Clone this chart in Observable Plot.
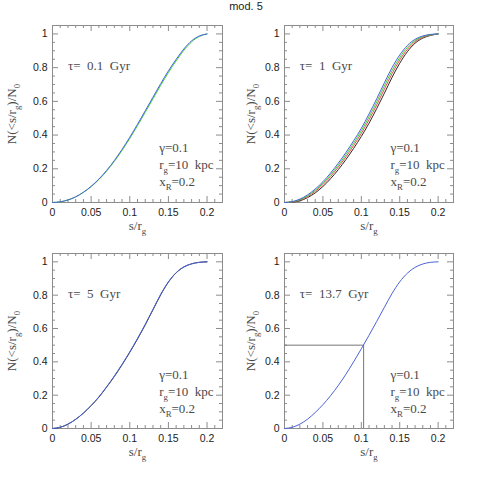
<!DOCTYPE html>
<html>
<head>
<meta charset="utf-8">
<script src="https://cdn.jsdelivr.net/npm/d3@7"></script>
<script src="https://cdn.jsdelivr.net/npm/@observablehq/plot@0.6"></script>
<style>
  html, body { margin: 0; padding: 0; background: #fff; }
  #root { position: relative; width: 479px; height: 479px; background: #fff; overflow: hidden; }
  #title { position: absolute; top: 0px; left: 196px; width: 100px; text-align: center; z-index: 5;
           font: 11px "Liberation Sans", Arial, sans-serif; color: #222; }
  .panel { position: absolute; }
</style>
</head>
<body>
<div id="root">
  <div class="panel" id="p0" style="left:0px;top:0px"></div>
  <div class="panel" id="p1" style="left:240px;top:0px"></div>
  <div class="panel" id="p2" style="left:0px;top:240px"></div>
  <div class="panel" id="p3" style="left:240px;top:240px"></div>
  <div id="title">mod. 5</div>
</div>
<script>
// ---------------- data ----------------
const sGrid = [0, 0.01, 0.02, 0.03, 0.04, 0.05, 0.06, 0.07, 0.08, 0.09, 0.10,
               0.11, 0.12, 0.13, 0.14, 0.15, 0.16, 0.17, 0.18, 0.19, 0.20];

// tau = 0.1 Gyr
const tl_blue  = [0, 0.004, 0.015, 0.034, 0.061, 0.096, 0.139, 0.190, 0.249, 0.315, 0.387,
                  0.464, 0.544, 0.625, 0.705, 0.781, 0.849, 0.911, 0.959, 0.988, 1.000];
const tl_green = [0, 0.004, 0.015, 0.033, 0.060, 0.094, 0.136, 0.186, 0.244, 0.309, 0.380,
                  0.456, 0.535, 0.615, 0.695, 0.771, 0.840, 0.903, 0.953, 0.985, 1.000];
// tau = 1 Gyr
const tr_blue  = [0, 0.005, 0.020, 0.045, 0.080, 0.123, 0.175, 0.233, 0.297, 0.366, 0.440,
                  0.525, 0.615, 0.710, 0.800, 0.875, 0.932, 0.968, 0.988, 0.997, 1.000];
const tr_green = [0, 0.004, 0.017, 0.040, 0.073, 0.114, 0.165, 0.221, 0.284, 0.352, 0.425,
                  0.508, 0.597, 0.691, 0.782, 0.860, 0.921, 0.961, 0.984, 0.995, 1.000];
const tr_red   = [0, 0.003, 0.014, 0.035, 0.066, 0.106, 0.154, 0.210, 0.271, 0.338, 0.410,
                  0.491, 0.579, 0.672, 0.764, 0.845, 0.909, 0.954, 0.980, 0.993, 1.000];
const tr_black = [0, 0.002, 0.010, 0.029, 0.057, 0.095, 0.141, 0.195, 0.255, 0.321, 0.392,
                  0.470, 0.557, 0.648, 0.742, 0.826, 0.895, 0.945, 0.975, 0.991, 1.000];
// tau = 5 Gyr
const bl_blue  = [0, 0.007, 0.026, 0.055, 0.093, 0.138, 0.190, 0.250, 0.315, 0.385, 0.460,
                  0.540, 0.625, 0.715, 0.805, 0.880, 0.935, 0.970, 0.988, 0.997, 1.000];
const bl_black = [0, 0.007, 0.026, 0.055, 0.092, 0.137, 0.188, 0.248, 0.312, 0.382, 0.457,
                  0.537, 0.622, 0.712, 0.802, 0.878, 0.934, 0.969, 0.988, 0.997, 1.000];
// tau = 13.7 Gyr
const br_blue  = [0, 0.007, 0.026, 0.056, 0.096, 0.143, 0.197, 0.258, 0.326, 0.400, 0.478,
                  0.559, 0.642, 0.727, 0.810, 0.880, 0.932, 0.967, 0.987, 0.997, 1.000];

const halfS = 0.103;   // s/r_g where N/N0 = 0.5 (tau = 13.7 Gyr)
const halfN = 0.5;

const seriesColors = { blue: "#4a63d8", green: "#3fd13f", red: "#f04a4a", black: "#2a2a2a" };
const tauLabels = ["τ=  0.1  Gyr", "τ=  1  Gyr", "τ=  5  Gyr", "τ=  13.7  Gyr"];
const paramLabels = ["γ=0.1", "r_g=10  kpc", "x_R=0.2"];
const paramY = [0.325, 0.222, 0.12];

const xMajor = [0, 0.05, 0.1, 0.15, 0.2];
const xMinor = [0.01, 0.02, 0.03, 0.04, 0.06, 0.07, 0.08, 0.09, 0.11, 0.12, 0.13, 0.14,
                0.16, 0.17, 0.18, 0.19, 0.21];
const yMajor = [0, 0.2, 0.4, 0.6, 0.8, 1];
const yMinor = [0.05, 0.1, 0.15, 0.25, 0.3, 0.35, 0.45, 0.5, 0.55, 0.65, 0.7, 0.75,
                0.85, 0.9, 0.95];

// ---------------- drawing ----------------
const toRows = (vals, name) => sGrid.map((s, i) => ({ s, n: vals[i], series: name }));

const panels = [
  { el: "p0", curves: [["green", tl_green], ["blue", tl_blue]], tau: tauLabels[0],
    w: 240, h: 240, ml: 52, mr: 18, mt: 25, mb: 38, ylx: -41 },
  { el: "p1", curves: [["black", tr_black], ["red", tr_red], ["green", tr_green], ["blue", tr_blue]], tau: tauLabels[1],
    w: 239, h: 240, ml: 44, mr: 26, mt: 25, mb: 38, ylx: -34 },
  { el: "p2", curves: [["black", bl_black], ["blue", bl_blue]], tau: tauLabels[2],
    w: 240, h: 239, ml: 52, mr: 18, mt: 13, mb: 51, ylx: -41 },
  { el: "p3", curves: [["blue", br_blue]], tau: tauLabels[3], guide: true,
    w: 239, h: 239, ml: 44, mr: 26, mt: 13, mb: 51, ylx: -34 }
];

const frameColor = "#8c8c8c";
const textColor = "#4a4a4a";
const serif = "'Liberation Serif', 'Times New Roman', serif";

function subify(svg) {
  d3.select(svg).selectAll("text").each(function () {
    const t = this.textContent;
    if (!t.includes("_")) return;
    const parts = [];
    let i = 0, buf = "";
    while (i < t.length) {
      if (t[i] === "_" && i + 1 < t.length) {
        if (buf) parts.push({ s: buf, sub: false });
        buf = "";
        parts.push({ s: t[i + 1], sub: true });
        i += 2;
      } else { buf += t[i]; i++; }
    }
    if (buf) parts.push({ s: buf, sub: false });
    const el = d3.select(this);
    el.text(null);
    let shifted = false;
    for (const p of parts) {
      const ts = el.append("tspan").text(p.s);
      if (p.sub) { ts.attr("dy", shifted ? null : "4").attr("font-size", "0.68em"); shifted = true; }
      else if (shifted) { ts.attr("dy", "-4"); shifted = false; }
    }
  });
}

for (const p of panels) {
  const pw = p.w - p.ml - p.mr;
  const ph = p.h - p.mt - p.mb;
  const rows = p.curves.flatMap(([name, vals]) => toRows(vals, name));
  const marks = [
    Plot.frame({ stroke: frameColor }),
    // inward ticks on all four sides
    Plot.tickX(xMajor, { x: d => d, insetTop: ph - 6, stroke: frameColor }),
    Plot.tickX(xMinor, { x: d => d, insetTop: ph - 3, stroke: frameColor }),
    Plot.tickX(xMajor, { x: d => d, insetBottom: ph - 6, stroke: frameColor }),
    Plot.tickX(xMinor, { x: d => d, insetBottom: ph - 3, stroke: frameColor }),
    Plot.tickY(yMajor, { y: d => d, insetRight: pw - 6, stroke: frameColor }),
    Plot.tickY(yMinor, { y: d => d, insetRight: pw - 3, stroke: frameColor }),
    Plot.tickY(yMajor, { y: d => d, insetLeft: pw - 6, stroke: frameColor }),
    Plot.tickY(yMinor, { y: d => d, insetLeft: pw - 3, stroke: frameColor }),
    Plot.axisX(xMajor, { tickSize: 0, tickPadding: 6, tickFormat: d => String(d), label: null }),
    Plot.axisY(yMajor, { tickSize: 0, tickPadding: 5, tickFormat: d => String(d), label: null }),
  ];
  if (p.guide) {
    marks.push(Plot.ruleY([halfN], { x1: 0, x2: halfS, stroke: "#777", strokeWidth: 1 }));
    marks.push(Plot.ruleX([halfS], { y1: 0, y2: halfN, stroke: "#777", strokeWidth: 1 }));
  }
  marks.push(Plot.line(rows, {
    x: "s", y: "n", z: "series", stroke: d => seriesColors[d.series],
    strokeWidth: 1, curve: "monotone-x"
  }));
  marks.push(Plot.text([p.tau], { x: 0.02, y: 0.81, text: d => d, textAnchor: "start",
    fontFamily: serif, fontSize: 13, fill: textColor }));
  marks.push(Plot.text(paramLabels, { x: 0.138, y: (d, i) => paramY[i], text: d => d, textAnchor: "start",
    fontFamily: serif, fontSize: 13, fill: textColor }));
  marks.push(Plot.text(["s/r_g"], { frameAnchor: "bottom", dy: 23, text: d => d,
    textAnchor: "middle", lineAnchor: "middle",
    fontFamily: serif, fontSize: 13, fill: textColor }));
  marks.push(Plot.text(["N(<s/r_g)/N_0"], { frameAnchor: "left", dx: p.ylx, rotate: -90, text: d => d,
    textAnchor: "middle", lineAnchor: "middle",
    fontFamily: serif, fontSize: 13, fill: textColor }));

  const chart = Plot.plot({
    width: p.w, height: p.h,
    marginLeft: p.ml, marginRight: p.mr, marginTop: p.mt, marginBottom: p.mb,
    x: { domain: [0, 0.22] },
    y: { domain: [0, 1.05] },
    style: { fontFamily: "'Liberation Sans', Arial, sans-serif", fontSize: "10.5px", color: "#222", background: "transparent" },
    marks
  });
  subify(chart);
  d3.select(chart).selectAll("text").filter(function () {
    return (this.getAttribute("font-family") || "").includes("Serif");
  }).style("letter-spacing", "0.6px");
  document.getElementById(p.el).appendChild(chart);
}
</script>
</body>
</html>
